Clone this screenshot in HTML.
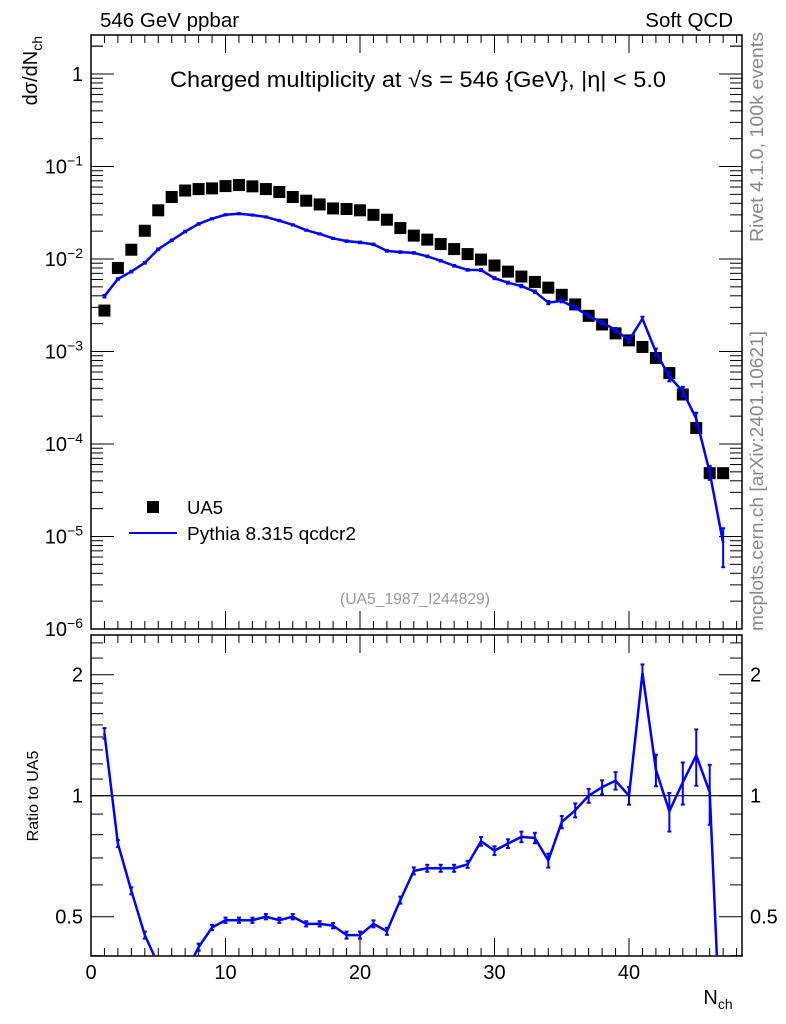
<!DOCTYPE html>
<html><head><meta charset="utf-8"><style>
html,body{margin:0;background:#fff;overflow:hidden;width:786px;height:1024px}
svg{display:block;font-family:"Liberation Sans",sans-serif}
</style></head><body>
<svg id="chart" width="786" height="1024" viewBox="0 0 786 1024">
<text x="100" y="27" font-size="20.5">546 GeV ppbar</text>
<text x="733" y="27" font-size="20.5" text-anchor="end">Soft QCD</text>
<text x="418" y="87" font-size="22" text-anchor="middle" textLength="496" lengthAdjust="spacingAndGlyphs">Charged multiplicity at √s = 546 {GeV}, |η| &lt; 5.0</text>
<text transform="translate(37,36) rotate(-90)" font-size="20" text-anchor="end">dσ/dN<tspan font-size="14" dy="5">ch</tspan></text>
<text transform="translate(763,242) rotate(-90)" font-size="18" fill="#888" textLength="210" lengthAdjust="spacingAndGlyphs">Rivet 4.1.0,  100k events</text>
<text transform="translate(763,631) rotate(-90)" font-size="18" fill="#888" textLength="300" lengthAdjust="spacingAndGlyphs">mcplots.cern.ch [arXiv:2401.10621]</text>
<text x="415" y="604" font-size="16" fill="#999" text-anchor="middle" textLength="150" lengthAdjust="spacingAndGlyphs">(UA5_1987_I244829)</text>
<rect x="147" y="501" width="12" height="12" fill="#000"/>
<text x="187" y="514" font-size="18.5">UA5</text>
<line x1="129" y1="533" x2="177" y2="533" stroke="#0000ff" stroke-width="2"/>
<text x="187" y="540" font-size="18.5" textLength="169" lengthAdjust="spacingAndGlyphs">Pythia 8.315 qcdcr2</text>
<text transform="translate(38,796) rotate(-90)" font-size="16" text-anchor="middle">Ratio to UA5</text>
<text x="718" y="1004" font-size="20" text-anchor="middle">N<tspan font-size="14" dy="5">ch</tspan></text>
<g id="g"></g>
</svg>
<script>
const nch=[1,2,3,4,5,6,7,8,9,10,11,12,13,14,15,16,17,18,19,20,21,22,23,24,25,26,27,28,29,30,31,32,33,34,35,36,37,38,39,40,41,42,43,44,45,46,47];
const ua5=[2.77e-3,8.0e-3,0.0126,0.0202,0.0336,0.0468,0.055,0.057,0.058,0.0614,0.063,0.061,0.057,0.053,0.0468,0.0427,0.0389,0.0352,0.0347,0.0336,0.030,0.0266,0.0216,0.0179,0.0162,0.0145,0.0128,0.0113,0.00986,0.0085,0.0073,0.00646,0.00565,0.0049,0.0041,0.00323,0.00243,0.00196,0.00157,0.00132,0.00112,8.5e-4,5.85e-4,3.43e-4,1.49e-4,4.84e-5,4.84e-5];
const ratio=[1.43,0.76,0.58,0.45,0.38,0.34,0.36,0.42,0.47,0.49,0.49,0.49,0.50,0.49,0.50,0.48,0.48,0.475,0.45,0.45,0.48,0.46,0.55,0.65,0.66,0.66,0.66,0.675,0.77,0.73,0.76,0.79,0.785,0.69,0.86,0.92,1.0,1.05,1.09,1.0,2.02,1.16,0.915,1.08,1.26,1.02,0.175];
const relErr=[0.03,0.02,0.02,0.02,0.02,0.02,0.02,0.02,0.015,0.015,0.015,0.015,0.015,0.015,0.015,0.015,0.015,0.015,0.02,0.02,0.02,0.02,0.02,0.02,0.02,0.02,0.02,0.02,0.025,0.025,0.025,0.03,0.03,0.04,0.035,0.04,0.04,0.04,0.05,0.05,0.05,0.09,0.11,0.12,0.16,0.17,0.45];
const xTicks=[0,10,20,30,40];
const ratioTicks=[0.5,1,2];
const ratioTickLabels=["0.5","1","2"];

const NS="http://www.w3.org/2000/svg";
const g=document.getElementById('g');
const L=91,R=742,T=35,B=629,RT=635,RB=956;
const X=v=>L+v*13.45;
const Y=v=>74-92.5*Math.log10(v);
const YR=r=>795.7-121*Math.log2(r);
function mk(tag,a,name,parent){const e=document.createElementNS(NS,tag);for(const k in a)e.setAttribute(k,a[k]);


(parent||g).appendChild(e);return e;}
function ln(x1,y1,x2,y2,name,w,c){return mk('line',{x1,y1,x2,y2,stroke:c||'#000','stroke-width':w||1},name);}

const defs=mk('defs',{},'defs');
const c1=mk('clipPath',{id:'c1'},'main-clip',defs);mk('rect',{x:L,y:T,width:R-L,height:B-T},'main-clip-rect',c1);
const c2=mk('clipPath',{id:'c2'},'ratio-clip',defs);mk('rect',{x:L,y:RT,width:R-L,height:RB-RT},'ratio-clip-rect',c2);

mk('rect',{x:L,y:T,width:R-L,height:B-T,fill:'none',stroke:'#000','stroke-width':1.5},'main-frame');
mk('rect',{x:L,y:RT,width:R-L,height:RB-RT,fill:'none',stroke:'#000','stroke-width':1.5},'ratio-frame');

for(let v=0;v<=48;v++){const x=X(v);if(x>R)break;const maj=v%10===0;const h=maj?18:8;
[[T,1],[B,-1],[RT,1],[RB,-1]].forEach(([y0,d])=>ln(x,y0,x,y0+d*h,'x-tick',1));}
xTicks.forEach(v=>{const t=mk('text',{x:X(v),y:979,'font-size':20,'text-anchor':'middle'},'x-tick-label');t.textContent=v;});

for(let e=-6;e<=0;e++){for(let m=1;m<=9;m++){const v=m*Math.pow(10,e);const y=Y(v);if(y<T||y>B)continue;const h=m===1?23:12;
ln(L,y,L+h,y,'y-tick');ln(R,y,R-h,y,'y-tick');}
const y=Y(Math.pow(10,e));const t=mk('text',{x:83,y:y+7,'font-size':20,'text-anchor':'end'},'y-tick-label');
if(e===0)t.textContent='1';else{t.textContent='10';const s=mk('tspan',{dy:-8,'font-size':14},'y-tick-exponent',t);s.textContent='−'+(-e);}}
{const y=Y(2);ln(L,y,L+12,y,'y-tick');ln(R,y,R-12,y,'y-tick');}

[0.4,0.6,0.7,0.8,0.9,1.1,1.2,1.3,1.4,1.5,1.6,1.7,1.8,1.9,2.2,2.4].forEach(r=>{const y=YR(r);if(y<RT||y>RB)return;ln(L,y,L+12,y,'ratio-minor-tick');ln(R,y,R-12,y,'ratio-minor-tick');});
ratioTicks.forEach((r,i)=>{const y=YR(r);ln(L,y,L+23,y,'ratio-major-tick');ln(R,y,R-23,y,'ratio-major-tick');
const t=mk('text',{x:83,y:y+7,'font-size':20,'text-anchor':'end'},'ratio-tick-label-left');t.textContent=ratioTickLabels[i];
const t2=mk('text',{x:750,y:y+7,'font-size':20},'ratio-tick-label-right');t2.textContent=ratioTickLabels[i];});
ln(L,YR(1),R,YR(1),'ratio-reference-line',1.2);

const gm=mk('g',{'clip-path':'url(#c1)'},'main-series');
nch.forEach((n,i)=>{mk('rect',{x:X(n)-6,y:Y(ua5[i])-6,width:12,height:12,fill:'#000'},'ua5-marker',gm);});
const py=nch.map((n,i)=>ua5[i]*ratio[i]);
mk('polyline',{points:nch.map((n,i)=>X(n)+','+Y(py[i])).join(' '),fill:'none',stroke:'#0000ff','stroke-width':2.5},'pythia-line',gm);
nch.forEach((n,i)=>{const x=X(n),y1=Y(py[i]*(1+relErr[i])),y2=Y(py[i]*(1-relErr[i]));
mk('line',{x1:x,y1:y1,x2:x,y2:y2,stroke:'#0000ff','stroke-width':2},'pythia-error-bar',gm);
mk('line',{x1:x-2,y1:y1,x2:x+2,y2:y1,stroke:'#0000ff','stroke-width':2},'pythia-error-cap',gm);
mk('line',{x1:x-2,y1:y2,x2:x+2,y2:y2,stroke:'#0000ff','stroke-width':2},'pythia-error-cap',gm);});

const gr=mk('g',{'clip-path':'url(#c2)'},'ratio-series');
mk('polyline',{points:nch.map((n,i)=>X(n)+','+YR(ratio[i])).join(' '),fill:'none',stroke:'#0000ff','stroke-width':2.5},'ratio-line',gr);
nch.forEach((n,i)=>{const x=X(n),y1=YR(ratio[i]*(1+relErr[i])),y2=YR(ratio[i]*(1-relErr[i]));
mk('line',{x1:x,y1:y1,x2:x,y2:y2,stroke:'#0000ff','stroke-width':2},'ratio-error-bar',gr);
mk('line',{x1:x-2,y1:y1,x2:x+2,y2:y1,stroke:'#0000ff','stroke-width':2},'ratio-error-cap',gr);
mk('line',{x1:x-2,y1:y2,x2:x+2,y2:y2,stroke:'#0000ff','stroke-width':2},'ratio-error-cap',gr);});
</script>
</body></html>
